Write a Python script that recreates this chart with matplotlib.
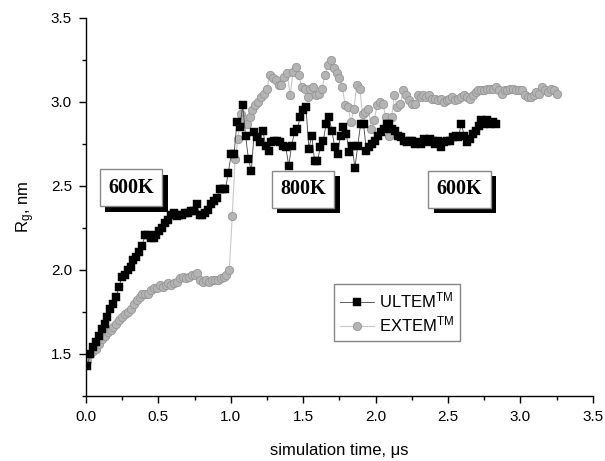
import numpy as np
import matplotlib
matplotlib.use("Agg")
import matplotlib.pyplot as plt
from matplotlib import patheffects as pe

plt.rcParams['font.family'] = ['Liberation Sans', 'DejaVu Sans']
plt.rcParams['mathtext.fontset'] = 'custom'
plt.rcParams['mathtext.rm'] = 'Liberation Sans'
plt.rcParams['mathtext.it'] = 'Liberation Sans:italic'

# ---- data ----
ultem_rg = [1.43, 1.50, 1.54, 1.57, 1.61, 1.65, 1.68, 1.72, 1.77, 1.80,
            1.84, 1.90, 1.96, 1.97, 2.00, 2.02, 2.06, 2.08, 2.11, 2.14,
            2.21, 2.21, 2.19, 2.19, 2.21, 2.23, 2.25, 2.28, 2.30, 2.33,
            2.34, 2.32, 2.33, 2.33, 2.34, 2.34, 2.35, 2.35, 2.39, 2.33,
            2.33, 2.34, 2.36, 2.39, 2.41, 2.43, 2.48, 2.48, 2.48, 2.58,
            2.69, 2.69, 2.88, 2.85, 2.98, 2.80, 2.66, 2.59, 2.82, 2.79,
            2.76, 2.83, 2.74, 2.71, 2.76, 2.77, 2.77, 2.76, 2.74, 2.73,
            2.62, 2.74, 2.82, 2.84, 2.91, 2.95, 2.97, 2.72, 2.80, 2.65,
            2.65, 2.73, 2.77, 2.87, 2.91, 2.83, 2.73, 2.69, 2.80, 2.85,
            2.81, 2.70, 2.74, 2.61, 2.74, 2.87, 2.87, 2.71, 2.73, 2.75,
            2.77, 2.80, 2.82, 2.84, 2.87, 2.87, 2.84, 2.83, 2.80, 2.79,
            2.77, 2.76, 2.77, 2.77, 2.75, 2.76, 2.75, 2.78, 2.76, 2.78,
            2.77, 2.75, 2.77, 2.73, 2.76, 2.77, 2.77, 2.79, 2.80, 2.79,
            2.87, 2.80, 2.76, 2.78, 2.81, 2.83, 2.86, 2.89, 2.87, 2.89,
            2.87, 2.88, 2.87]
ultem_t_start, ultem_t_end = 0.01, 2.83

extem_rg = [1.46, 1.50, 1.52, 1.53, 1.56, 1.59, 1.61, 1.63, 1.64, 1.66,
            1.68, 1.70, 1.72, 1.74, 1.75, 1.77, 1.80, 1.82, 1.84, 1.86,
            1.86, 1.86, 1.88, 1.89, 1.89, 1.91, 1.90, 1.91, 1.92, 1.91,
            1.92, 1.93, 1.95, 1.96, 1.95, 1.96, 1.97, 1.97, 1.98, 1.94,
            1.93, 1.94, 1.93, 1.94, 1.94, 1.94, 1.95, 1.96, 1.97, 2.00,
            2.32, 2.66, 2.78, 2.93, 2.90, 2.87, 2.91, 2.95, 2.98, 3.00,
            3.03, 3.05, 3.08, 3.16, 3.14, 3.13, 3.10, 3.10, 3.15, 3.17,
            3.04, 3.18, 3.21, 3.16, 3.09, 3.08, 3.03, 3.08, 3.09, 3.04,
            3.05, 3.08, 3.16, 3.22, 3.25, 3.20, 3.17, 3.14, 3.09, 2.98,
            2.97, 2.88, 2.96, 3.10, 3.08, 2.93, 2.94, 2.96, 2.84, 2.89,
            2.98, 3.00, 2.99, 2.91, 2.80, 2.91, 3.04, 2.97, 2.99, 3.07,
            3.04, 3.01, 2.99, 2.99, 3.04, 3.03, 3.04, 3.03, 3.04, 3.02,
            3.02, 3.01, 3.02, 3.00, 3.01, 3.02, 3.03, 3.01, 3.02, 3.03,
            3.04, 3.03, 3.02, 3.04, 3.06, 3.07, 3.07, 3.07, 3.08, 3.08,
            3.08, 3.09, 3.07, 3.05, 3.07, 3.07, 3.08, 3.08, 3.07, 3.07,
            3.07, 3.04, 3.03, 3.03, 3.04, 3.06, 3.05, 3.09, 3.07, 3.06,
            3.08, 3.07, 3.05]
extem_t_start, extem_t_end = 0.01, 3.25

labels = ["ULTEM$^{\\mathrm{TM}}$", "EXTEM$^{\\mathrm{TM}}$"]
annot_text = ["600K", "800K", "600K"]
annot_x = [0.31, 1.50, 2.58]
annot_y = [2.49, 2.48, 2.48]

xticks = [0.0, 0.5, 1.0, 1.5, 2.0, 2.5, 3.0, 3.5]
yticks = [1.5, 2.0, 2.5, 3.0, 3.5]

ultem_t = np.linspace(ultem_t_start, ultem_t_end, len(ultem_rg))
extem_t = np.linspace(extem_t_start, extem_t_end, len(extem_rg))

fig = plt.figure(figsize=(6.05, 4.61), dpi=100)
ax = fig.add_axes([0.142, 0.141, 0.838, 0.82])

ax.plot(extem_t, extem_rg, '-', color='#c8c8c8', lw=0.8,
        marker='o', ms=6.0, mfc='#b4b4b4', mec='#969696', mew=0.6,
        label=labels[1], zorder=2)
ax.plot(ultem_t, ultem_rg, '-', color='#444444', lw=0.6,
        marker='s', ms=5.6, mfc='black', mec='black', mew=0.3,
        label=labels[0], zorder=3)

ax.set_xlim(0, 3.5)
ax.set_ylim(1.25, 3.5)
ax.set_xticks(xticks)
ax.set_yticks(yticks)
ax.set_xticks(np.arange(0.25, 3.5, 0.5), minor=True)
ax.set_yticks(np.arange(1.25, 3.5, 0.5), minor=True)
ax.xaxis.set_major_formatter(matplotlib.ticker.FormatStrFormatter('%.1f'))
ax.yaxis.set_major_formatter(matplotlib.ticker.FormatStrFormatter('%.1f'))
ax.tick_params(which='major', direction='out', length=5, width=1, labelsize=11, pad=5)
ax.tick_params(which='minor', direction='out', length=3, width=1)
for s in ['top', 'right']:
    ax.spines[s].set_visible(False)
for s in ['left', 'bottom']:
    ax.spines[s].set_linewidth(1.0)

ax.set_xlabel("simulation time, \u03bcs", fontsize=12, labelpad=14)
ax.set_ylabel("R$_\\mathrm{g}$, nm", fontsize=12, labelpad=10)

for txt, x, y in zip(annot_text, annot_x, annot_y):
    t = ax.text(x, y, txt, ha='center', va='center', fontsize=14.5,
                fontweight='bold', family='Liberation Serif', color='black',
                bbox=dict(boxstyle='square,pad=0.42', fc='white', ec='#888888', lw=1),
                zorder=6)
    t.get_bbox_patch().set_path_effects([
        pe.SimplePatchShadow(offset=(4, -4), shadow_rgbFace='black', alpha=1.0),
        pe.Normal()])

handles, labs = ax.get_legend_handles_labels()
leg = ax.legend(handles[::-1], labs[::-1], loc='upper left',
                bbox_to_anchor=(0.472, 0.318), fontsize=12, frameon=True,
                fancybox=False, edgecolor='#666666', borderpad=0.4,
                handlelength=2.0, handletextpad=0.3, labelspacing=0.25)
leg.get_frame().set_linewidth(1.0)

fig.savefig("out.png", dpi=100)
